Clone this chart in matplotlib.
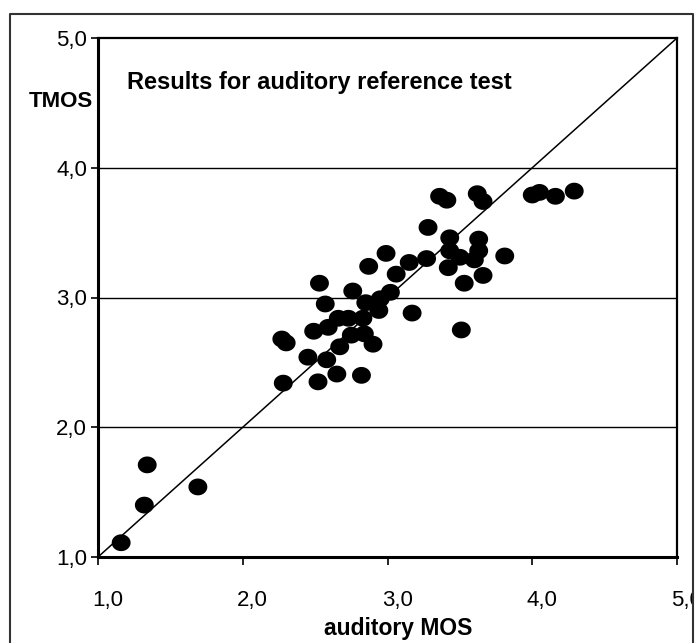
import matplotlib
matplotlib.use("Agg")
import matplotlib.pyplot as plt
import numpy as np
from matplotlib.path import Path
from matplotlib.lines import Line2D
from matplotlib.patches import Rectangle
from matplotlib.transforms import ScaledTranslation

# auditory MOS (x) vs TMOS (y)
auditory_mos = [1.16, 1.32, 1.34, 1.69,
                2.27, 2.30, 2.28, 2.45, 2.52, 2.49, 2.53, 2.57, 2.59, 2.58,
                2.65, 2.66, 2.67, 2.73, 2.75, 2.76, 2.82, 2.83, 2.84, 2.85,
                2.90, 2.87, 2.94, 2.95, 2.99, 3.02, 3.06, 3.15, 3.27, 3.17,
                3.28, 3.36, 3.41, 3.62, 3.66, 3.43, 3.63, 3.43, 3.63, 3.50,
                3.60, 3.81, 3.42, 3.66, 3.53, 3.51,
                4.00, 4.05, 4.16, 4.29]
tmos = [1.11, 1.40, 1.71, 1.54,
        2.68, 2.65, 2.34, 2.54, 2.35, 2.74, 3.11, 2.95, 2.77, 2.52,
        2.41, 2.84, 2.62, 2.84, 2.71, 3.05, 2.40, 2.84, 2.72, 2.96,
        2.64, 3.24, 2.90, 2.99, 3.34, 3.04, 3.18, 3.27, 3.30, 2.88,
        3.54, 3.78, 3.75, 3.80, 3.74, 3.46, 3.45, 3.36, 3.36, 3.31,
        3.29, 3.32, 3.23, 3.17, 3.11, 2.75,
        3.79, 3.81, 3.78, 3.82]

ticks = [1.0, 2.0, 3.0, 4.0, 5.0]
tick_labels = ["1,0", "2,0", "3,0", "4,0", "5,0"]
grid_levels = [2.0, 3.0, 4.0]

W, H = 700, 643
fig = plt.figure(figsize=(W / 100, H / 100), dpi=100)
plt.rcParams["font.family"] = ["Liberation Sans", "DejaVu Sans"]

ax = fig.add_axes([98 / W, 1 - 557 / H, 579 / W, 519 / H])
ax.set_xlim(1, 5)
ax.set_ylim(1, 5)

for g in grid_levels:
    ax.axhline(g, color="black", lw=1.0, zorder=1)
ax.plot([1, 5], [1, 5], color="black", lw=1.1, zorder=2)

# slightly wide ellipse, like the Excel markers
t = np.linspace(0, 2 * np.pi, 60)
ellipse = Path(np.column_stack([np.cos(t), 0.89 * np.sin(t)]), closed=True)
ax.scatter(auditory_mos, tmos, s=185, marker=ellipse, color="black",
           edgecolor="none", zorder=3, clip_on=False)

for side in ("left", "bottom"):
    ax.spines[side].set_linewidth(2.2)
for side in ("top", "right"):
    ax.spines[side].set_linewidth(1.6)

ax.set_xticks(ticks)
ax.set_xticklabels(tick_labels)
ax.set_yticks(ticks)
ax.set_yticklabels(tick_labels)
ax.tick_params(axis="x", direction="out", length=6, width=1.2, pad=18,
               labelsize=16)
ax.tick_params(axis="y", direction="out", length=5, width=1.2, pad=3,
               labelsize=16)
for lab in ax.get_xticklabels():
    lab.set_transform(lab.get_transform()
                      + ScaledTranslation(10 / 100, 0, fig.dpi_scale_trans))

fig.text(127 / W, 1 - 89 / H, "Results for auditory reference test",
         fontsize=17, fontweight="bold", va="baseline", ha="left")
fig.text(93 / W, 1 - 107 / H, "TMOS", fontsize=16, fontweight="bold",
         va="baseline", ha="right")
fig.text(398 / W, 1 - 635 / H, "auditory MOS", fontsize=16.5,
         fontweight="bold", va="baseline", ha="center")

# outer frame (open at the bottom), white beyond the right edge
fig.patches.append(Rectangle((694 / W, 0), 1 - 694 / W, 1,
                             transform=fig.transFigure, facecolor="white",
                             edgecolor="none", zorder=10))
fx = [10 / W, 10 / W, 693 / W, 693 / W]
fy = [0, 1 - 14 / H, 1 - 14 / H, 0]
fig.lines.append(Line2D(fx, fy, transform=fig.transFigure, color="#333333",
                        lw=1.5, zorder=11))

fig.savefig("out.png", dpi=100)
